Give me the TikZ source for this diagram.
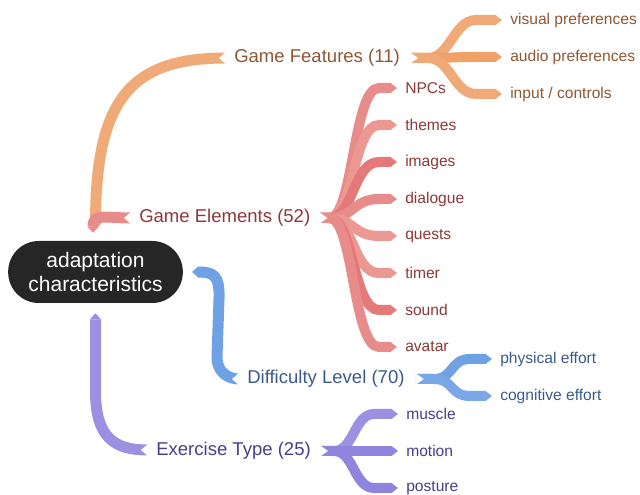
\documentclass[tikz,border=0pt]{standalone}
\usepackage{fontspec}
\setmainfont{Liberation Sans}
\usetikzlibrary{calc}

% branch palettes: ribbon shades and label colour
\definecolor{gfrib}{HTML}{F0AA78}
\definecolor{gfribB}{HTML}{EFA168}
\definecolor{gftxt}{HTML}{8E5732}
\definecolor{gerib}{HTML}{E88B8B}
\definecolor{geribB}{HTML}{E57979}
\definecolor{geribC}{HTML}{EB9792}
\definecolor{getxt}{HTML}{8C3838}
\definecolor{dlrib}{HTML}{6FA2E4}
\definecolor{dlribB}{HTML}{7AA8E6}
\definecolor{dltxt}{HTML}{3A5A8E}
\definecolor{exrib}{HTML}{9C90E2}
\definecolor{exribB}{HTML}{8F84DE}
\definecolor{extxt}{HTML}{4A3C8C}
\definecolor{rootfill}{HTML}{262626}

\begin{document}
\begin{tikzpicture}[x=0.75pt,y=-0.75pt,
  rootbox/.style={fill=rootfill, text=white, rounded corners=23pt,
    minimum width=131pt, minimum height=46.5pt, align=center,
    font=\fontsize{15.75}{18}\selectfont, inner sep=0pt},
  lbl/.style={anchor=west, inner sep=0pt, yshift=-1.5pt,
    font=\fontsize{13.9}{16}\selectfont},
  leaf/.style={anchor=west, inner sep=0pt, yshift=-1.5pt,
    font=\fontsize{11.7}{14}\selectfont},
  mainrib/.style={line width=8.25pt, line cap=butt},
  leafrib/.style={line width=7.5pt, line cap=butt}
]
\useasboundingbox (0,0) rectangle (640,495);

% central topic
\node[rootbox] (root) at (95.5,272) {adaptation\\characteristics};

% first-level topics
\node[lbl, text=gftxt] (gf) at (234,56)  {Game Features (11)};
\node[lbl, text=getxt] (ge) at (139,216) {Game Elements (52)};
\node[lbl, text=dltxt] (dl) at (247,377) {Difficulty Level (70)};
\node[lbl, text=extxt] (ex) at (156,449) {Exercise Type (25)};

% Game Features leaves
\node[leaf, text=gftxt] (gf1) at (510,18) {visual preferences};
\node[leaf, text=gftxt] (gf2) at (510,55) {audio preferences};
\node[leaf, text=gftxt] (gf3) at (510,92) {input / controls};

% Game Elements leaves
\node[leaf, text=getxt] (ge1) at (405,86)  {NPCs};
\node[leaf, text=getxt] (ge2) at (405,123) {themes};
\node[leaf, text=getxt] (ge3) at (405,160) {images};
\node[leaf, text=getxt] (ge4) at (405,197) {dialogue};
\node[leaf, text=getxt] (ge5) at (405,234) {quests};
\node[leaf, text=getxt] (ge6) at (405,271) {timer};
\node[leaf, text=getxt] (ge7) at (405,308) {sound};
\node[leaf, text=getxt] (ge8) at (405,345) {avatar};

% Difficulty Level leaves
\node[leaf, text=dltxt] (dl1) at (500,357) {physical effort};
\node[leaf, text=dltxt] (dl2) at (500,394) {cognitive effort};

% Exercise Type leaves
\node[leaf, text=extxt] (ex1) at (406,412) {muscle};
\node[leaf, text=extxt] (ex2) at (406,449) {motion};
\node[leaf, text=extxt] (ex3) at (406,486) {posture};

% ---------- ribbons from the central topic ----------
% Game Features
\coordinate (gfA) at ($(root.north)+(0,-17)$);
\coordinate (gfB) at ($(gf.west)+(-8,0)$);
\draw[mainrib, gfrib] (gfA) .. controls +(0,-125) and +(-95,0) .. (gfB);
\fill[gfrib] ($(gfA)+(-5.5,0)$) -- ($(gfA)+(0,6)$) -- ($(gfA)+(5.5,0)$) -- cycle;
\fill[white] ($(gfB)+(0.5,-6.5)$) -- ($(gfB)+(-7,0)$) -- ($(gfB)+(0.5,6.5)$) -- cycle;

% Game Elements
\coordinate (geA) at ($(root.north)+(-2.5,-14)$);
\coordinate (geB) at ($(ge.west)+(-8,0)$);
\draw[mainrib, gerib] (geA) .. controls +(0,-14) and +(-26,0) .. (geB);
\fill[gerib] ($(geA)+(-5.5,0)$) -- ($(geA)+(0,6)$) -- ($(geA)+(5.5,0)$) -- cycle;
\fill[white] ($(geB)+(0.5,-6.5)$) -- ($(geB)+(-7,0)$) -- ($(geB)+(0.5,6.5)$) -- cycle;

% Difficulty Level
\coordinate (dlA) at ($(root.east)+(15,0)$);
\coordinate (dlB) at ($(dl.west)+(-8,0)$);
\draw[mainrib, dlrib] (dlA) .. controls +(16,0) and +(0,-20) .. ($(dlA)+(21,24)$)
  -- ($(dlB)+(-22,-22)$)
  .. controls +(0,16) and +(-10,0) .. (dlB);
\fill[dlrib] ($(dlA)+(0,-5.5)$) -- ($(dlA)+(-6,0)$) -- ($(dlA)+(0,5.5)$) -- cycle;
\fill[white] ($(dlB)+(0.5,-6.5)$) -- ($(dlB)+(-7,0)$) -- ($(dlB)+(0.5,6.5)$) -- cycle;

% Exercise Type
\coordinate (exA) at ($(root.south)+(0,16)$);
\coordinate (exB) at ($(ex.west)+(-8,-1)$);
\draw[mainrib, exrib] (exA) -- ($(exA)+(0,72)$)
  .. controls +(0,48) and +(-32,0) .. (exB);
\fill[exrib] ($(exA)+(-5.5,0)$) -- ($(exA)+(0,-6)$) -- ($(exA)+(5.5,0)$) -- cycle;
\fill[white] ($(exB)+(0.5,-6.5)$) -- ($(exB)+(-7,0)$) -- ($(exB)+(0.5,6.5)$) -- cycle;

% ---------- fans towards the leaves ----------
% Game Features fan
\coordinate (gfS) at ($(gf.east)+(10,0)$);
\foreach \t/\c in {gf1/gfrib, gf2/gfribB, gf3/gfrib}{
  \coordinate (E) at ($(\t.west)+(-14,0)$);
  \draw[leafrib, \c] (gfS) -- ($(gfS)+(18,0)$)
    .. controls +(22,0) and +(-22,0) .. ($(E)+(-20,0)$) -- (E);
  \fill[\c] ($(E)+(-0.5,-5)$) -- ($(E)+(6,0)$) -- ($(E)+(-0.5,5)$) -- cycle;
}
\fill[white] ($(gfS)+(-0.5,-6)$) -- ($(gfS)+(8,0)$) -- ($(gfS)+(-0.5,6)$) -- cycle;

% Game Elements fan
\coordinate (geS) at ($(ge.east)+(9,0)$);
\foreach \t/\c in {ge1/gerib, ge2/geribC, ge3/geribB, ge4/gerib,
                   ge5/geribC, ge6/geribC, ge7/geribB, ge8/gerib}{
  \coordinate (E) at ($(\t.west)+(-14,0)$);
  \draw[leafrib, \c] (geS) -- ($(geS)+(10,0)$)
    .. controls +(24,0) and +(-26,0) .. ($(E)+(-12,0)$) -- (E);
  \fill[\c] ($(E)+(-0.5,-5)$) -- ($(E)+(6,0)$) -- ($(E)+(-0.5,5)$) -- cycle;
}
\fill[white] ($(geS)+(-0.5,-6)$) -- ($(geS)+(8,0)$) -- ($(geS)+(-0.5,6)$) -- cycle;

% Difficulty Level fan
\coordinate (dlS) at ($(dl.east)+(11,0)$);
\foreach \t/\c in {dl1/dlrib, dl2/dlribB}{
  \coordinate (E) at ($(\t.west)+(-14,0)$);
  \draw[leafrib, \c] (dlS) -- ($(dlS)+(18,0)$)
    .. controls +(20,0) and +(-20,0) .. ($(E)+(-16,0)$) -- (E);
  \fill[\c] ($(E)+(-0.5,-5)$) -- ($(E)+(6,0)$) -- ($(E)+(-0.5,5)$) -- cycle;
}
\fill[white] ($(dlS)+(-0.5,-6)$) -- ($(dlS)+(8,0)$) -- ($(dlS)+(-0.5,6)$) -- cycle;

% Exercise Type fan
\coordinate (exS) at ($(ex.east)+(9,0)$);
\foreach \t/\c in {ex1/exrib, ex2/exribB, ex3/exribB}{
  \coordinate (E) at ($(\t.west)+(-14,0)$);
  \draw[leafrib, \c] (exS) -- ($(exS)+(14,0)$)
    .. controls +(20,0) and +(-20,0) .. ($(E)+(-18,0)$) -- (E);
  \fill[\c] ($(E)+(-0.5,-5)$) -- ($(E)+(6,0)$) -- ($(E)+(-0.5,5)$) -- cycle;
}
\fill[white] ($(exS)+(-0.5,-6)$) -- ($(exS)+(8,0)$) -- ($(exS)+(-0.5,6)$) -- cycle;
\end{tikzpicture}
\end{document}
